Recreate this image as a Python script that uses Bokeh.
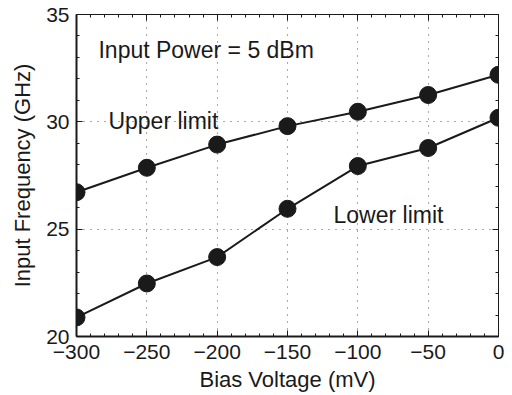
from bokeh.plotting import figure
from bokeh.models import LinearAxis, FixedTicker, Label, Range1d
from bokeh.embed import file_html
from bokeh.resources import INLINE

bias = [-300, -250, -200, -150, -100, -50, 0]
upper = [26.72, 27.86, 28.94, 29.8, 30.47, 31.25, 32.19]
lower = [20.89, 22.47, 23.7, 25.95, 27.94, 28.78, 30.19]
x_ticks = [-300, -250, -200, -150, -100, -50, 0]
y_ticks = [20, 25, 30, 35]

FONT = "Liberation Sans"

p = figure(width=505, height=394, output_backend="svg", toolbar_location=None,
           x_range=Range1d(-300, 0), y_range=Range1d(20, 35),
           min_border_left=76, min_border_right=7, min_border_top=14, min_border_bottom=58)
p.outline_line_color = None
p.background_fill_color = "white"

xmin = [v for v in range(-300, 1, 10)]
ymin = [v for v in range(20, 36)]

def style(ax, labels=True):
    ax.major_tick_in = 6
    ax.major_tick_out = 0
    ax.minor_tick_in = 3
    ax.minor_tick_out = 0
    ax.axis_line_color = "#1a1a1a"
    ax.major_tick_line_color = "#1a1a1a"
    ax.minor_tick_line_color = "#1a1a1a"
    ax.major_label_text_font = FONT
    ax.major_label_text_font_size = "21px"
    ax.major_label_text_color = "#1a1a1a" if labels else None
    ax.axis_label_text_font = FONT
    ax.axis_label_text_font_style = "normal"
    ax.axis_label_text_font_size = "22px"
    ax.axis_label_text_color = "#1a1a1a"

xa = p.xaxis[0]
xa.ticker = FixedTicker(ticks=x_ticks, minor_ticks=xmin)
xa.major_label_overrides = {t: (str(t).replace("-", "\u2212")) for t in x_ticks}
xa.axis_label = "Bias Voltage (mV)"
style(xa)
xa.axis_line_width = 2
xa.major_label_standoff = 8
xa.axis_label_standoff = 5

ya = p.yaxis[0]
ya.ticker = FixedTicker(ticks=y_ticks, minor_ticks=ymin)
ya.axis_label = "Input Frequency (GHz)"
style(ya)
ya.axis_line_width = 2
ya.major_label_standoff = 7
ya.axis_label_standoff = 8

top = LinearAxis(ticker=FixedTicker(ticks=x_ticks, minor_ticks=xmin))
style(top, labels=False)
top.major_label_text_font_size = "0px"
p.add_layout(top, "above")
right = LinearAxis(ticker=FixedTicker(ticks=y_ticks, minor_ticks=ymin))
style(right, labels=False)
right.major_label_text_font_size = "0px"
p.add_layout(right, "right")

p.xgrid.ticker = FixedTicker(ticks=x_ticks)
p.ygrid.ticker = FixedTicker(ticks=y_ticks)
for g in (p.xgrid, p.ygrid):
    g.grid_line_color = "#555555"
    g.grid_line_dash = "1 6"
    g.grid_line_width = 1

for ys in (upper, lower):
    p.line(bias, ys, line_color="#1a1a1a", line_width=2)
    p.scatter(bias, ys, size=17, fill_color="#1a1a1a", line_color="#1a1a1a")

for txt, x, y in [("Input Power = 5 dBm", -284.4, 33.36), ("Upper limit", -277.3, 30.03), ("Lower limit", -117.3, 25.67)]:
    p.add_layout(Label(x=x, y=y, text=txt, text_font=FONT, text_font_size="23px",
                       text_color="#1a1a1a", text_baseline="middle"))

open("out.html", "w").write(file_html(p, INLINE))
